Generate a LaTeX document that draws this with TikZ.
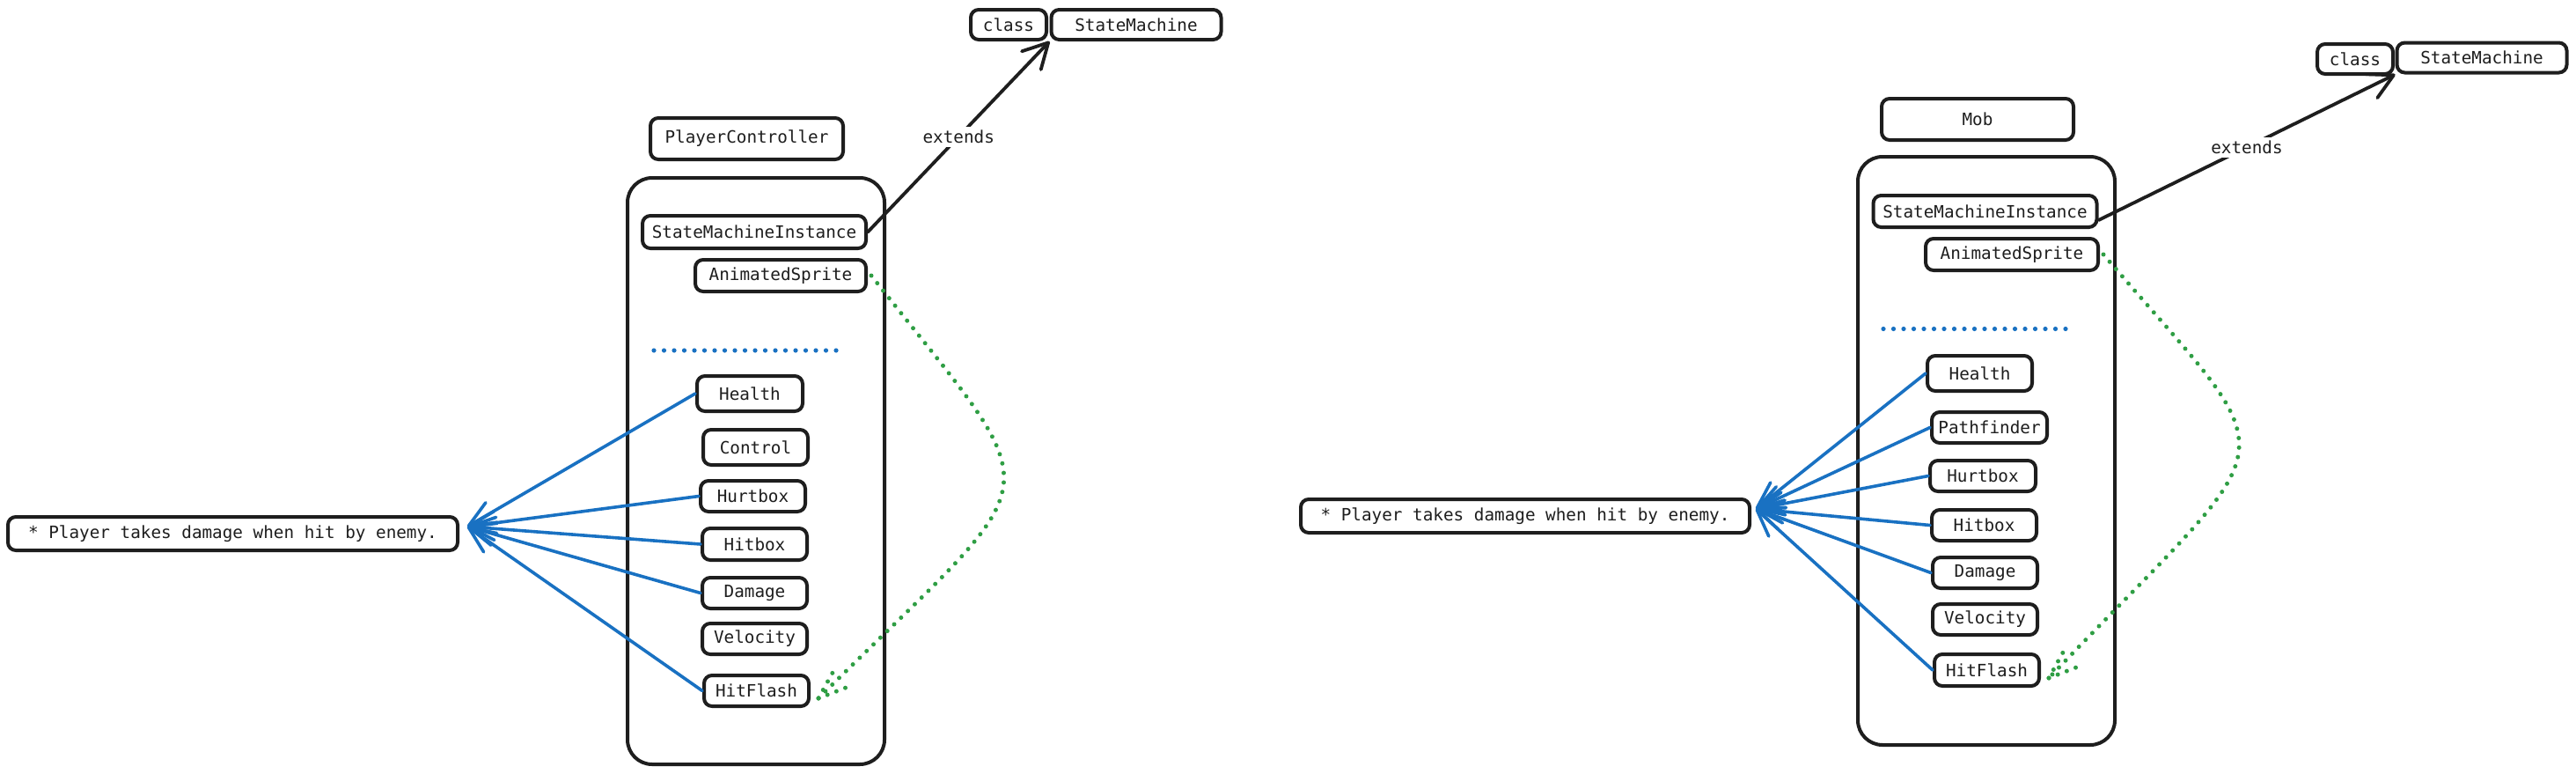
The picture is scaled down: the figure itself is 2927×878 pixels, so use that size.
\documentclass[tikz,border=0pt]{standalone}
\usepackage{fontspec}
\setmonofont{DejaVu Sans Mono}
\usetikzlibrary{arrows.meta,calc}
\definecolor{ink}{HTML}{1E1E1E}
\definecolor{eblue}{HTML}{1971C2}
\definecolor{egreen}{HTML}{2F9E44}
\begin{document}
\begin{tikzpicture}[x=0.5pt,y=-0.5pt,
  box/.style={draw=ink, line width=2pt, rounded corners=4.5pt, fill=white, inner sep=0pt,
    font=\ttfamily\fontsize{9.65pt}{11pt}\selectfont, text=ink},
  frame/.style={draw=ink, line width=2pt, rounded corners=14pt, inner sep=0pt},
  link/.style={draw=eblue, line width=1.8pt, line cap=round,
    -{Straight Barb[length=15pt,width=13pt,round]}},
  ext/.style={draw=ink, line width=1.9pt, line cap=round,
    -{Straight Barb[length=14pt,width=15pt,round]}},
  greendot/.style={draw=egreen, line width=2.5pt, line cap=round, dash pattern=on 0pt off 5.45pt},
  bluedot/.style={draw=eblue, line width=2.6pt, line cap=round, dash pattern=on 0pt off 5.75pt},
  lbl/.style={fill=white, inner sep=2pt, font=\ttfamily\fontsize{9.65pt}{11pt}\selectfont, text=ink}
]
\useasboundingbox (0,0) rectangle (2927,878);

% ---------------- left diagram ----------------
\node[frame, minimum width=146pt, minimum height=333pt] (frameL) at (859,535) {};
\node[box, minimum width=43pt, minimum height=17pt] (classL) at (1146,28) {class};
\node[box, minimum width=96.5pt, minimum height=17pt] (smL) at (1291,28) {StateMachine};
\node[box, minimum width=109.5pt, minimum height=23.5pt] (pcL) at (848.5,157.5) {PlayerController};
\node[box, minimum width=127pt, minimum height=18.5pt] (smiL) at (857,263.5) {StateMachineInstance};
\node[box, minimum width=97pt, minimum height=18pt] (asL) at (887,313) {AnimatedSprite};
\draw[bluedot] (743,398) -- (952,398);
\node[box, minimum width=60pt, minimum height=20pt] (healthL) at (852,447) {Health};
\node[box, minimum width=59.5pt, minimum height=20pt] (controlL) at (858.5,508) {Control};
\node[box, minimum width=59.5pt, minimum height=17.5pt] (hurtL) at (855.5,563.5) {Hurtbox};
\node[box, minimum width=59.5pt, minimum height=18pt] (hitL) at (857.5,618) {Hitbox};
\node[box, minimum width=59.5pt, minimum height=17.5pt] (dmgL) at (857.5,673.5) {Damage};
\node[box, minimum width=59.5pt, minimum height=17.5pt] (velL) at (857.5,725.5) {Velocity};
\node[box, minimum width=59.5pt, minimum height=17.5pt] (hfL) at (859.5,784.5) {HitFlash};
\node[box, minimum width=255.5pt, minimum height=19pt] (noteL) at (264.5,606) {* Player takes damage when hit by enemy.};

\coordinate (tipL) at (531,598);
\foreach \n in {healthL,hurtL,hitL,dmgL,hfL} \draw[link] (\n.west) -- (tipL);

\draw[ext] (smiL.east) -- node[lbl] {extends} (smL.south west);

\coordinate (gtipL) at (930,793);
\draw[greendot] ([xshift=2pt]asL.east) .. controls (1200,580) and (1200,525) .. (gtipL);
\draw[greendot] (gtipL) -- ++(16,-29);
\draw[greendot] (gtipL) -- ++(31,-12);

% ---------------- right diagram ----------------
\node[frame, minimum width=146pt, minimum height=334pt] (frameR) at (2257,512) {};
\node[box, minimum width=43pt, minimum height=17pt] (classR) at (2676,67) {class};
\node[box, minimum width=96.5pt, minimum height=17pt] (smR) at (2820,65.5) {StateMachine};
\node[box, minimum width=109pt, minimum height=23.5pt] (mobR) at (2247,135.5) {Mob};
\node[box, minimum width=127pt, minimum height=18pt] (smiR) at (2255.5,240) {StateMachineInstance};
\node[box, minimum width=98pt, minimum height=18pt] (asR) at (2286,289) {AnimatedSprite};
\draw[bluedot] (2140,373.5) -- (2353,373.5);
\node[box, minimum width=59.5pt, minimum height=20pt] (healthR) at (2249.5,424) {Health};
\node[box, minimum width=65.5pt, minimum height=17.5pt] (pathR) at (2260.5,485.5) {Pathfinder};
\node[box, minimum width=60pt, minimum height=17.5pt] (hurtR) at (2253,540.5) {Hurtbox};
\node[box, minimum width=59.5pt, minimum height=17.5pt] (hitR) at (2254.5,596.5) {Hitbox};
\node[box, minimum width=59.5pt, minimum height=17.5pt] (dmgR) at (2255.5,650.5) {Damage};
\node[box, minimum width=59.5pt, minimum height=17.5pt] (velR) at (2255.5,703.5) {Velocity};
\node[box, minimum width=59.5pt, minimum height=18pt] (hfR) at (2257.5,761) {HitFlash};
\node[box, minimum width=255pt, minimum height=19pt] (noteR) at (1733,586) {* Player takes damage when hit by enemy.};

\coordinate (tipR) at (1995,578);
\foreach \n in {healthR,pathR,hurtR,hitR,dmgR,hfR} \draw[link] (\n.west) -- (tipR);

\draw[ext] ($(smiR.east)!0.5!(smiR.south east)$) -- node[lbl] {extends} (smR.south west);

\coordinate (gtipR) at (2328,770);
\draw[greendot] ([xshift=2pt]asR.east) .. controls (2605,540) and (2605,480) .. (gtipR);
\draw[greendot] (gtipR) -- ++(16,-29);
\draw[greendot] (gtipR) -- ++(31,-12);
\end{tikzpicture}
\end{document}
